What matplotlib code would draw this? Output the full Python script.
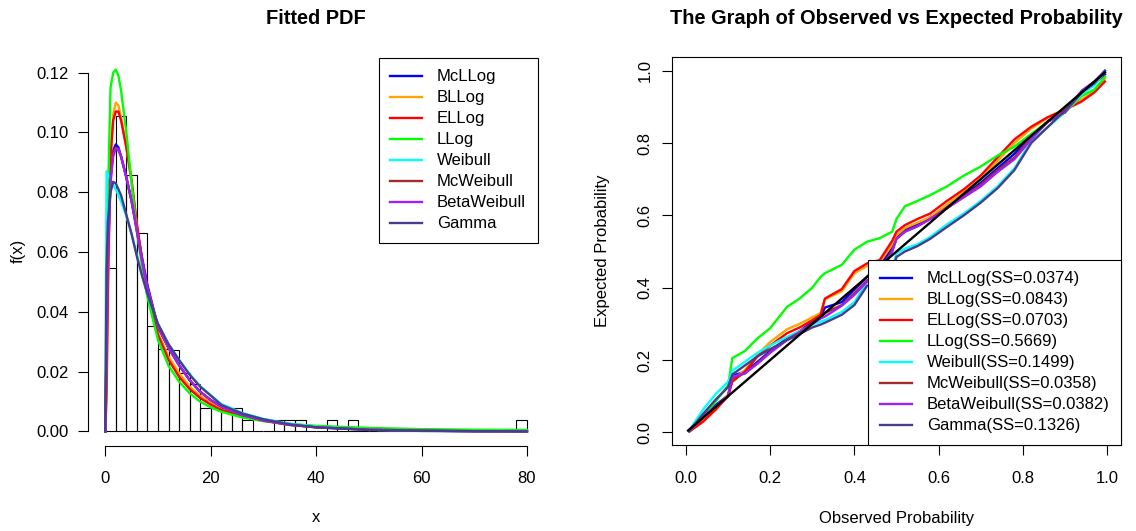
import numpy as np
import matplotlib
matplotlib.use("Agg")
import matplotlib.pyplot as plt

plt.rcParams['font.family'] = ['Liberation Sans', 'DejaVu Sans']
plt.rcParams['font.size'] = 12

# figure size in pixels (dpi 100)
W, H = 1136, 531

# ---- data ----
models = ["McLLog", "BLLog", "ELLog", "LLog", "Weibull", "McWeibull", "BetaWeibull", "Gamma"]
colours = ["blue", "orange", "red", "#00FF00", "cyan", "#A52A2A", "#A020F0", "#483D8B"]
ss_values = ["0.0374", "0.0843", "0.0703", "0.5669", "0.1499", "0.0358", "0.0382", "0.1326"]

# histogram (density, bins of width 2)
bin_left = list(range(0, 80, 2))
hist_density = [0.0547, 0.1055, 0.0859, 0.0664, 0.0352, 0.0277, 0.0273, 0.0195, 0.0159, 0.0080,
                0.0078, 0.0078, 0.0080, 0.0039, 0.0, 0.0, 0.0039, 0.0039, 0.0039, 0.0,
                0.0, 0.0039, 0.0, 0.0039, 0.0, 0.0, 0.0, 0.0, 0.0, 0.0,
                0.0, 0.0, 0.0, 0.0, 0.0, 0.0, 0.0, 0.0, 0.0, 0.0039]

# fitted densities
pdf_x = [0, 0.25, 0.5, 1, 1.5, 2, 2.5, 3, 4, 5, 6, 7, 8, 10, 12, 14, 16, 18, 20, 22, 26, 30, 35, 40, 50, 60, 70, 80]
pdf_mcllog = [0, 0.03, 0.06, 0.085, 0.094, 0.096, 0.095, 0.092, 0.085, 0.077, 0.068, 0.058, 0.049, 0.035,
              0.028, 0.0222, 0.0172, 0.0133, 0.0105, 0.0083, 0.0055, 0.0037, 0.0023, 0.0015, 0.0007, 0.0003, 0.00015, 0.0001]
pdf_bllog = [0, 0.01, 0.04, 0.09, 0.106, 0.110, 0.109, 0.105, 0.095, 0.083, 0.069, 0.057, 0.047, 0.033,
             0.025, 0.0195, 0.015, 0.0119, 0.0095, 0.0074, 0.005, 0.0035, 0.0022, 0.0015, 0.0007, 0.0004, 0.0002, 0.0001]
pdf_ellog = [0, 0.015, 0.05, 0.092, 0.104, 0.107, 0.107, 0.104, 0.095, 0.084, 0.0694, 0.0573, 0.0473, 0.0323,
             0.024, 0.0183, 0.0142, 0.0112, 0.009, 0.0072, 0.005, 0.0036, 0.0025, 0.0017, 0.0009, 0.0005, 0.0003, 0.0002]
pdf_llog = [0, 0.03, 0.078, 0.115, 0.12, 0.121, 0.119, 0.114, 0.1, 0.083, 0.067, 0.055, 0.045, 0.0306,
            0.022, 0.0167, 0.0128, 0.010, 0.0081, 0.0066, 0.0047, 0.0035, 0.0025, 0.0019, 0.0012, 0.0008, 0.0006, 0.0005]
pdf_weibull = [0, 0.087, 0.086, 0.084, 0.0825, 0.081, 0.079, 0.077, 0.072, 0.066, 0.059, 0.052, 0.046, 0.036,
               0.0292, 0.024, 0.0192, 0.0152, 0.0122, 0.0092, 0.0062, 0.0042, 0.0026, 0.0016, 0.0006, 0.0002, 0.0001, 0.0]
pdf_mcweibull = [0, 0.03, 0.06, 0.085, 0.093, 0.095, 0.094, 0.092, 0.085, 0.077, 0.067, 0.057, 0.048, 0.035,
                 0.028, 0.0222, 0.0172, 0.0133, 0.0105, 0.0083, 0.0055, 0.0037, 0.0022, 0.0014, 0.0006, 0.0003, 0.0001, 0.0001]
pdf_betaweibull = [0, 0.028, 0.058, 0.083, 0.092, 0.0945, 0.0945, 0.092, 0.085, 0.077, 0.067, 0.057, 0.048, 0.035,
                   0.028, 0.0222, 0.0172, 0.0133, 0.0105, 0.0083, 0.0055, 0.0037, 0.0022, 0.0014, 0.0006, 0.0003, 0.0001, 0.0001]
pdf_gamma = [0, 0.055, 0.07, 0.08, 0.0835, 0.083, 0.081, 0.079, 0.0725, 0.066, 0.0585, 0.052, 0.046, 0.036,
             0.0292, 0.0239, 0.019, 0.015, 0.012, 0.0089, 0.006, 0.0041, 0.0024, 0.0014, 0.0005, 0.0002, 0.0001, 0.0]

# observed vs expected probability
pp_obs = [0.008, 0.04, 0.07, 0.10, 0.11, 0.14, 0.17, 0.20, 0.24, 0.27, 0.30,
          0.32, 0.33, 0.37, 0.40, 0.43, 0.46, 0.49, 0.50, 0.52, 0.55, 0.58,
          0.62, 0.66, 0.70, 0.74, 0.78, 0.82, 0.86, 0.90, 0.94, 0.97, 0.995]
pp_mcllog = [0.003, 0.045, 0.075, 0.102, 0.156, 0.168, 0.195, 0.225, 0.260, 0.280, 0.305,
             0.320, 0.345, 0.360, 0.395, 0.430, 0.460, 0.510, 0.540, 0.560, 0.575, 0.595,
             0.625, 0.655, 0.690, 0.730, 0.770, 0.820, 0.860, 0.885, 0.935, 0.965, 0.990]
pp_bllog = [0.003, 0.032, 0.066, 0.105, 0.145, 0.172, 0.215, 0.250, 0.285, 0.300, 0.318,
            0.330, 0.368, 0.390, 0.440, 0.460, 0.470, 0.520, 0.545, 0.565, 0.580, 0.595,
            0.630, 0.665, 0.700, 0.750, 0.800, 0.840, 0.870, 0.895, 0.920, 0.945, 0.978]
pp_ellog = [0.002, 0.029, 0.062, 0.100, 0.140, 0.168, 0.210, 0.240, 0.274, 0.290, 0.310,
            0.325, 0.370, 0.396, 0.446, 0.467, 0.476, 0.530, 0.555, 0.573, 0.590, 0.605,
            0.640, 0.672, 0.710, 0.760, 0.810, 0.845, 0.872, 0.892, 0.915, 0.940, 0.970]
pp_llog = [0.003, 0.042, 0.085, 0.130, 0.205, 0.225, 0.260, 0.288, 0.347, 0.370, 0.400,
           0.430, 0.440, 0.463, 0.505, 0.527, 0.537, 0.555, 0.590, 0.625, 0.640, 0.656,
           0.680, 0.710, 0.735, 0.765, 0.790, 0.825, 0.860, 0.885, 0.930, 0.948, 0.983]
pp_weibull = [0.006, 0.062, 0.105, 0.140, 0.170, 0.195, 0.220, 0.240, 0.264, 0.280, 0.298,
              0.306, 0.310, 0.333, 0.360, 0.415, 0.425, 0.455, 0.495, 0.508, 0.520, 0.540,
              0.575, 0.605, 0.640, 0.680, 0.730, 0.805, 0.845, 0.885, 0.935, 0.960, 0.997]
pp_mcweibull = [0.003, 0.040, 0.070, 0.100, 0.150, 0.163, 0.192, 0.222, 0.257, 0.277, 0.302,
                0.317, 0.330, 0.352, 0.385, 0.420, 0.440, 0.505, 0.535, 0.555, 0.570, 0.590,
                0.620, 0.652, 0.685, 0.725, 0.760, 0.815, 0.860, 0.885, 0.940, 0.968, 0.995]
pp_betaweibull = [0.003, 0.043, 0.072, 0.100, 0.154, 0.163, 0.190, 0.220, 0.255, 0.275, 0.300,
                  0.315, 0.320, 0.350, 0.380, 0.417, 0.435, 0.500, 0.535, 0.555, 0.570, 0.590,
                  0.620, 0.650, 0.680, 0.720, 0.755, 0.810, 0.860, 0.885, 0.945, 0.970, 1.000]
pp_gamma = [0.004, 0.050, 0.090, 0.125, 0.160, 0.185, 0.210, 0.230, 0.255, 0.272, 0.290,
            0.298, 0.303, 0.325, 0.352, 0.405, 0.415, 0.445, 0.485, 0.500, 0.515, 0.535,
            0.568, 0.600, 0.635, 0.675, 0.725, 0.800, 0.845, 0.890, 0.940, 0.965, 1.000]
pp_diag = [0.005, 0.995]

pdf_curves = [pdf_mcllog, pdf_bllog, pdf_ellog, pdf_llog, pdf_weibull, pdf_mcweibull, pdf_betaweibull, pdf_gamma]
pp_curves = [pp_mcllog, pp_bllog, pp_ellog, pp_llog, pp_weibull, pp_mcweibull, pp_betaweibull, pp_gamma]


def axes_px(fig, left, top, right, bottom):
    # place an axes by pixel edges
    return fig.add_axes([left / W, 1 - bottom / H, (right - left) / W, (bottom - top) / H])


def legend_px(ax, labels_loc, x, y):
    leg = ax.legend(loc=labels_loc, bbox_to_anchor=(x / W, 1 - y / H), bbox_transform=ax.figure.transFigure,
                    borderaxespad=0, fancybox=False, framealpha=1, edgecolor="black",
                    handlelength=1.9, handletextpad=0.9, borderpad=0.7, labelspacing=0.36, fontsize=12)
    leg.get_frame().set_linewidth(0.8)
    return leg


fig = plt.figure(figsize=(W / 100, H / 100), dpi=100)
lw = 1.7

# ---- left: fitted pdf ----
ax1 = axes_px(fig, 88.4, 57, 543.8, 445.7)
ax1.bar(bin_left, hist_density, width=2, align="edge", fill=False, edgecolor="black", linewidth=0.8)
for name, ys, c in zip(models, pdf_curves, colours):
    ax1.plot(pdf_x, ys, color=c, lw=lw, label=name)
ax1.set_xlim(-3.2, 83.2)
ax1.set_ylim(-0.00475, 0.12525)
for s in ["top", "right"]:
    ax1.spines[s].set_visible(False)
ax1.spines["left"].set_bounds(0, 0.12)
ax1.spines["bottom"].set_bounds(0, 80)
ax1.set_xticks([0, 20, 40, 60, 80])
yt = np.arange(0, 0.121, 0.02)
ax1.set_yticks(yt)
ax1.set_yticklabels([f"{v:.2f}" for v in yt])
ax1.tick_params(direction="out", length=7, width=0.8, labelsize=12)
ax1.tick_params(axis="x", pad=11.5)
ax1.tick_params(axis="y", pad=7)
ax1.set_title("Fitted PDF", fontsize=14.4, fontweight="bold", pad=23.5)
ax1.set_xlabel("x")
ax1.xaxis.set_label_coords(0.5, (445.7 - 517) / 388.7)
ax1.xaxis.label.set_va("center")
ax1.set_ylabel("f(x)")
ax1.yaxis.set_label_coords((18 - 88.4) / 455.4, 0.5)
ax1.yaxis.label.set_va("center")
legend_px(ax1, "upper right", 537.7, 57.7)

# ---- right: observed vs expected ----
ax2 = axes_px(fig, 671.7, 57, 1121.3, 445)
for name, ys, c, ss in zip(models, pp_curves, colours, ss_values):
    ax2.plot(pp_obs, ys, color=c, lw=lw, label=f"{name}(SS={ss})")
ax2.plot(pp_diag, pp_diag, color="black", lw=lw)
ax2.set_xlim(-0.034, 1.034)
ax2.set_ylim(-0.0351, 1.0379)
ticks = np.arange(0, 1.01, 0.2)
ax2.set_xticks(ticks)
ax2.set_xticklabels([f"{v:.1f}" for v in ticks])
ax2.set_yticks(ticks)
ax2.set_yticklabels([f"{v:.1f}" for v in ticks], rotation=90, va="center")
for s in ax2.spines.values():
    s.set_linewidth(0.8)
ax2.tick_params(direction="out", length=7, width=0.8, labelsize=12)
ax2.tick_params(axis="x", pad=11.5)
ax2.tick_params(axis="y", pad=7)
ax2.set_title("The Graph of Observed vs Expected Probability", fontsize=14.4, fontweight="bold", pad=23.5)
ax2.set_xlabel("Observed Probability")
ax2.xaxis.set_label_coords(0.5, (445 - 518) / 388)
ax2.xaxis.label.set_va("center")
ax2.set_ylabel("Expected Probability")
ax2.yaxis.set_label_coords((602 - 671.7) / 449.6, 0.5)
ax2.yaxis.label.set_va("center")
legend_px(ax2, "lower right", 1121.3, 445)

fig.savefig("out.png", dpi=100)
